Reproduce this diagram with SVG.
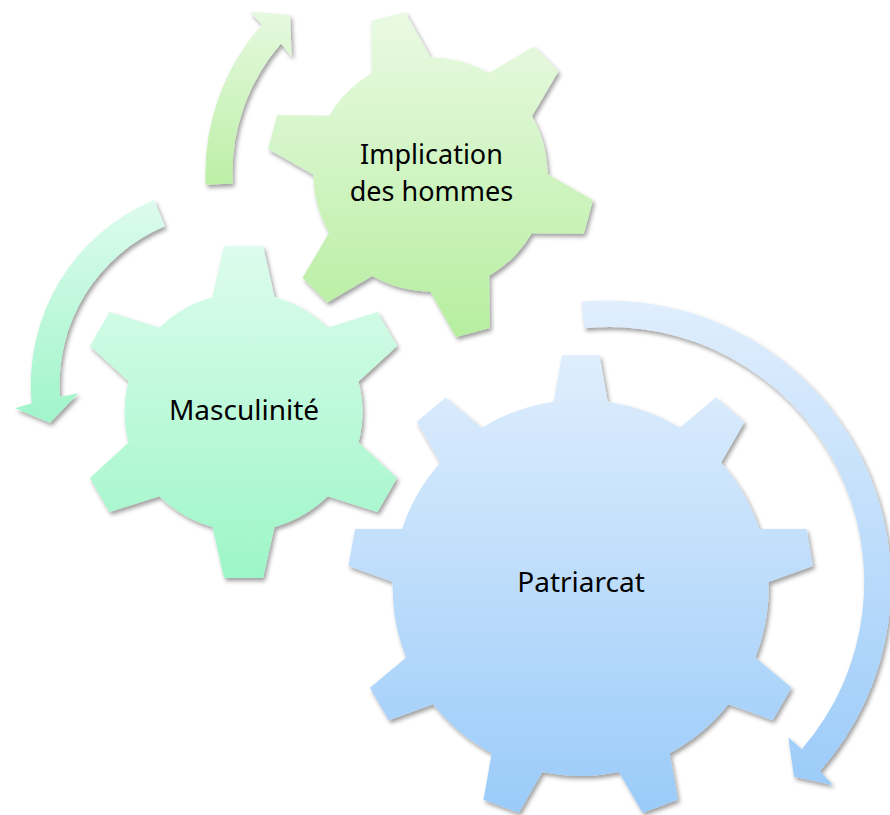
<svg xmlns="http://www.w3.org/2000/svg" xmlns:xlink="http://www.w3.org/1999/xlink" width="890" height="815" viewBox="0 0 890 815">
  <style>
    .lbl { font-family: "Noto Sans", "Open Sans", "DejaVu Sans", sans-serif; font-size: 28px; fill: #000000; text-anchor: middle; }
    .lbl2 { font-size: 27px; }
  </style>
  <defs>
    <linearGradient id="gImp" x1="0" y1="0" x2="0" y2="1">
      <stop offset="0" stop-color="#EAFAE4"/>
      <stop offset="1" stop-color="#B6EE9F"/>
    </linearGradient>
    <linearGradient id="gMas" x1="0" y1="0" x2="0" y2="1">
      <stop offset="0" stop-color="#DDFCED"/>
      <stop offset="1" stop-color="#9DF6C7"/>
    </linearGradient>
    <linearGradient id="gPat" x1="0" y1="0" x2="0" y2="1">
      <stop offset="0" stop-color="#DFEEFD"/>
      <stop offset="1" stop-color="#9ACBF9"/>
    </linearGradient>
    <linearGradient id="gA1" x1="0" y1="0" x2="0" y2="1">
      <stop offset="0" stop-color="#E6F9DF"/>
      <stop offset="1" stop-color="#BCEFA7"/>
    </linearGradient>
    <linearGradient id="gA2" x1="0" y1="0" x2="0" y2="1">
      <stop offset="0" stop-color="#DDFBEE"/>
      <stop offset="1" stop-color="#A0F5C9"/>
    </linearGradient>
    <linearGradient id="gA3" x1="0" y1="0" x2="0" y2="1">
      <stop offset="0" stop-color="#E0EEFD"/>
      <stop offset="1" stop-color="#9CCCF9"/>
    </linearGradient>
    <filter id="sh" x="-10%" y="-10%" width="125%" height="125%">
      <feDropShadow dx="2" dy="3" stdDeviation="2.2" flood-color="#000000" flood-opacity="0.38"/>
    </filter>
    <polygon id="t9" points="-27,-160 -27,-186.05 -18.8,-232.5 18.8,-232.5 27,-186.05 27,-160"/>
    <polygon id="t6m" points="-31,-100 -31,-114.9 -19.5,-166 19.5,-166 31,-114.9 31,-100"/>
    <polygon id="t6i" points="-30.5,-100 -30.5,-112.95 -17.5,-163.5 17.5,-163.5 30.5,-112.95 30.5,-100"/>
    <mask id="mPat" maskUnits="userSpaceOnUse" x="0" y="0" width="890" height="815">
      <g fill="#ffffff" transform="translate(580.7 587.8)">
        <circle r="188"/>
        <use href="#t9"/>
        <use href="#t9" transform="rotate(40)"/>
        <use href="#t9" transform="rotate(80)"/>
        <use href="#t9" transform="rotate(120)"/>
        <use href="#t9" transform="rotate(160)"/>
        <use href="#t9" transform="rotate(200)"/>
        <use href="#t9" transform="rotate(240)"/>
        <use href="#t9" transform="rotate(280)"/>
        <use href="#t9" transform="rotate(320)"/>
      </g>
    </mask>
    <mask id="mMas" maskUnits="userSpaceOnUse" x="0" y="0" width="890" height="815">
      <g fill="#ffffff" transform="translate(243.5 412)">
        <circle r="119"/>
        <use href="#t6m"/>
        <use href="#t6m" transform="rotate(60)"/>
        <use href="#t6m" transform="rotate(120)"/>
        <use href="#t6m" transform="rotate(180)"/>
        <use href="#t6m" transform="rotate(240)"/>
        <use href="#t6m" transform="rotate(300)"/>
      </g>
    </mask>
    <mask id="mImp" maskUnits="userSpaceOnUse" x="0" y="0" width="890" height="815">
      <g fill="#ffffff" transform="translate(430.5 174.5) rotate(-15)">
        <circle r="117"/>
        <use href="#t6i"/>
        <use href="#t6i" transform="rotate(60)"/>
        <use href="#t6i" transform="rotate(120)"/>
        <use href="#t6i" transform="rotate(180)"/>
        <use href="#t6i" transform="rotate(240)"/>
        <use href="#t6i" transform="rotate(300)"/>
      </g>
    </mask>
  </defs>

  <g id="connectors">
    <path id="arrow-implication" filter="url(#sh)" fill="url(#gA1)"
      d="M205.7,184.7 A225,225 0 0 1 262,24.5 L250,11.7 L290,15 L291.7,56.7 L281,43.5 A198,198 0 0 0 232.7,183.5 Z"/>
    <path id="arrow-masculinite" filter="url(#sh)" fill="url(#gA2)"
      d="M154.1,200 A200,200 0 0 0 31.7,403.3 L15,408.3 L50,422.7 L78.3,393.3 L60,396.7 A171.5,171.5 0 0 1 164.9,226.3 Z"/>
    <path id="arrow-patriarcat" filter="url(#sh)" fill="url(#gA3)"
      d="M581.7,301.7 A283,283 0 0 1 820,771 L832.7,785 L794,776.7 L788.3,737.3 L801.7,749.3 A255,255 0 0 0 584,328.3 Z"/>
  </g>

  <g id="node-implication">
    <g filter="url(#sh)">
      <rect x="266" y="11" width="330" height="327" fill="url(#gImp)" mask="url(#mImp)"/>
    </g>
    <text class="lbl lbl2" x="431.5" y="163.5">Implication</text>
    <text class="lbl lbl2" x="431.5" y="200.8">des hommes</text>
  </g>

  <g id="node-masculinite">
    <g filter="url(#sh)">
      <rect x="77" y="246" width="333" height="332" fill="url(#gMas)" mask="url(#mMas)"/>
    </g>
    <text class="lbl" x="244" y="420">Masculinité</text>
  </g>

  <g id="node-patriarcat">
    <g filter="url(#sh)">
      <rect x="348" y="355" width="466" height="458" fill="url(#gPat)" mask="url(#mPat)"/>
    </g>
    <text class="lbl" x="581" y="592">Patriarcat</text>
  </g>
</svg>
